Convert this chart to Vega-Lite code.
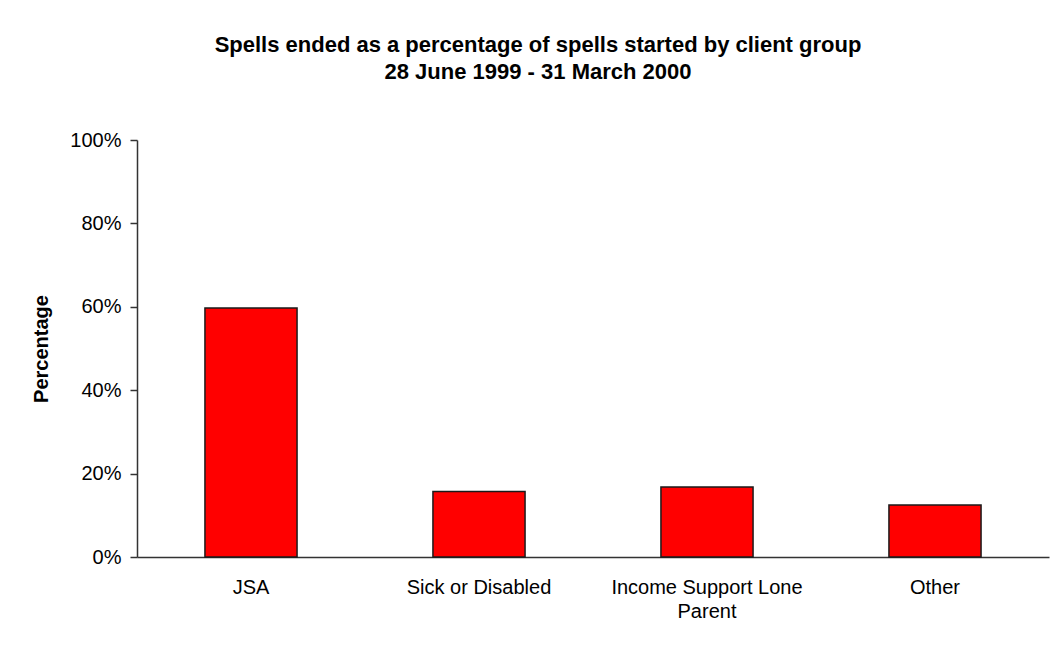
{
  "$schema": "https://vega.github.io/schema/vega-lite/v6.json",
  "autosize": {"type": "none"},
  "width": 912,
  "height": 417,
  "padding": {"left": 137, "top": 140, "right": 4, "bottom": 88},
  "background": "white",
  "title": {
    "text": ["Spells ended as a percentage of spells started by client group", "28 June 1999 - 31 March 2000"],
    "font": "Liberation Sans",
    "fontSize": 22,
    "fontWeight": "bold",
    "color": "black",
    "anchor": "middle",
    "dx": -55,
    "offset": 46,
    "lineHeight": 27
  },
  "data": {
    "values": [
      {"group": "JSA", "pct": 0.597},
      {"group": "Sick or Disabled", "pct": 0.157},
      {"group": "Income Support Lone Parent", "pct": 0.168},
      {"group": "Other", "pct": 0.125}
    ]
  },
  "mark": {"type": "bar", "color": "#FF0000", "stroke": "#1a1a1a", "strokeWidth": 1.5},
  "encoding": {
    "x": {
      "field": "group",
      "type": "nominal",
      "sort": null,
      "scale": {"paddingInner": 0.596, "paddingOuter": 0.298},
      "axis": {
        "title": null,
        "labelAngle": 0,
        "ticks": false,
        "tickSize": 0,
        "labelPadding": 20,
        "labelFont": "Liberation Sans",
        "labelFontSize": 20,
        "labelColor": "black",
        "labelLineHeight": 24,
        "labelLimit": 300,
        "labelExpr": "datum.label == 'Income Support Lone Parent' ? ['Income Support Lone', 'Parent'] : datum.label",
        "domainColor": "#333333",
        "domainWidth": 1.5
      }
    },
    "y": {
      "field": "pct",
      "type": "quantitative",
      "scale": {"domain": [0, 1], "nice": false},
      "axis": {
        "title": "Percentage",
        "titleFont": "Liberation Sans",
        "titleFontSize": 20,
        "titleFontWeight": "bold",
        "titleColor": "black",
        "titlePadding": 18,
        "values": [0, 0.2, 0.4, 0.6, 0.8, 1],
        "format": ".0%",
        "grid": false,
        "tickSize": 7,
        "tickColor": "#333333",
        "tickWidth": 1.5,
        "labelPadding": 9,
        "labelFont": "Liberation Sans",
        "labelFontSize": 20,
        "labelColor": "black",
        "domainColor": "#333333",
        "domainWidth": 1.5
      }
    }
  },
  "config": {"view": {"stroke": null}}
}
